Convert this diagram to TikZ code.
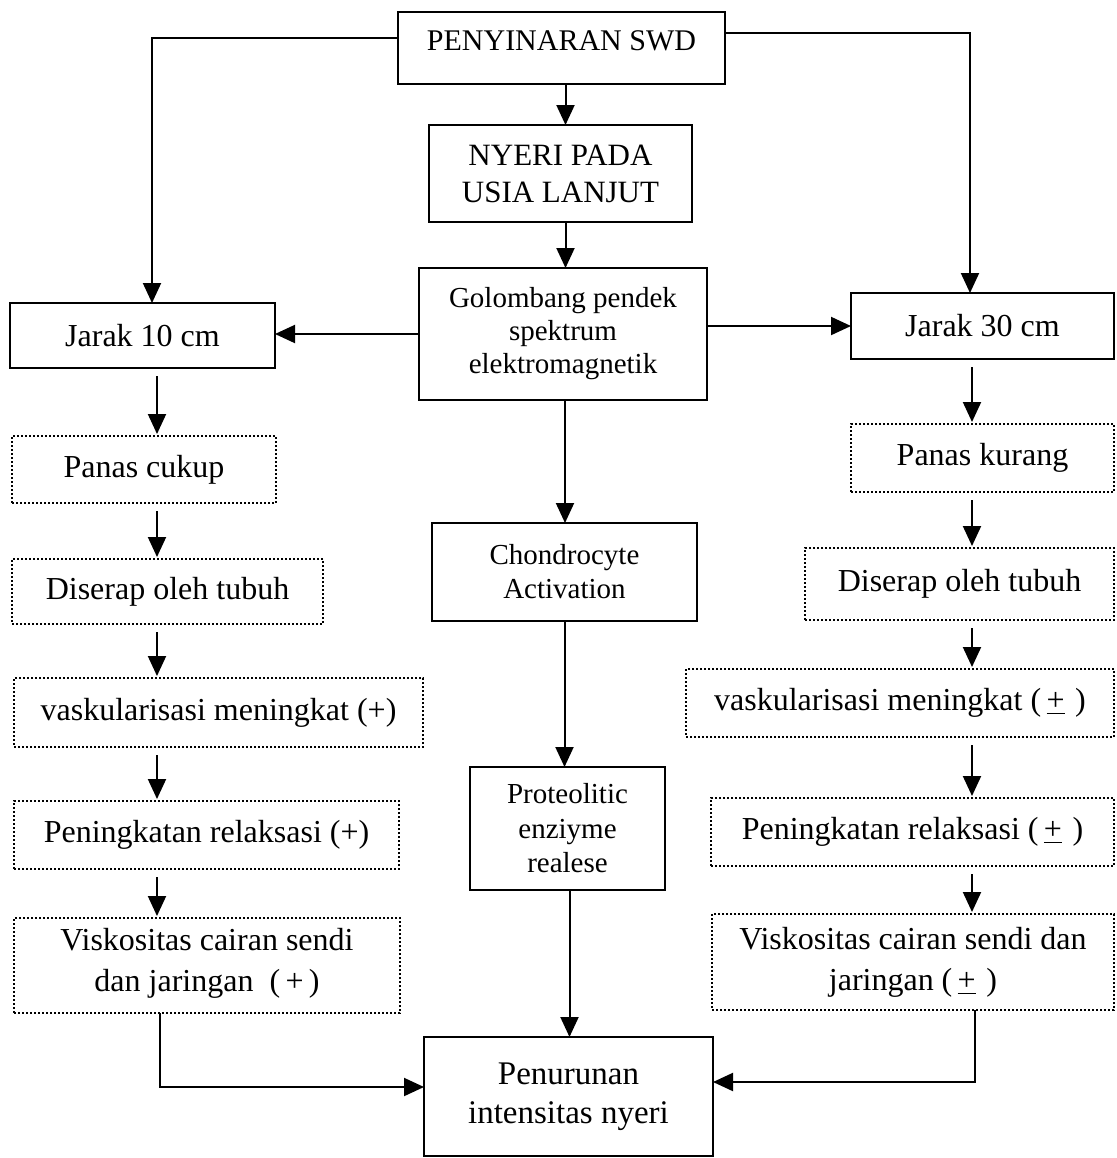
\documentclass[tikz,border=0pt]{standalone}
\usepackage{fontspec}
\setmainfont{Liberation Serif}
\usetikzlibrary{arrows.meta}
\newcommand\mybox[7]{\node[#6, minimum width={(#4-#2)*0.5pt}, minimum height={(#5-#3)*0.5pt}] (#1) at ({(#2+#4)/2},{(#3+#5)/2}) {#7};}
\newcommand\pmu{\underline{+}}
\begin{document}
\begin{tikzpicture}[x=0.5pt,y=-0.5pt,
  solidbox/.style={draw, line width=1pt, inner sep=0pt, outer sep=0pt, align=center, font=\fontsize{16}{20.5}\selectfont},
  dotbox/.style={solidbox, densely dotted, line width=0.9pt},
  arr/.style={line width=1pt, -{Triangle[width=9pt,length=10pt]}},
  small/.style={arr, shorten <=4pt, shorten >=1pt}]
\useasboundingbox (0,0) rectangle (1116,1158);
% centre column
\mybox{swd}{398}{12}{725}{84}{solidbox, font=\fontsize{15}{18}\selectfont, inner ysep=0pt, text height=19pt, text depth=17pt}{PENYINARAN SWD}
\mybox{nyeri}{429}{125}{692}{222}{solidbox, font=\fontsize{15.5}{18.5}\selectfont}{NYERI PADA\\USIA LANJUT}
\mybox{gol}{419}{268}{707}{400}{solidbox, font=\fontsize{14.5}{16.5}\selectfont}{Golombang pendek\\spektrum\\elektromagnetik}
\mybox{chon}{432}{523}{697}{621}{solidbox, font=\fontsize{14.5}{17}\selectfont}{Chondrocyte\\Activation}
\mybox{prot}{470}{767}{665}{890}{solidbox, font=\fontsize{14.5}{17.25}\selectfont}{Proteolitic\\enziyme\\realese}
\mybox{pen}{424}{1037}{713}{1156}{solidbox, font=\fontsize{16.5}{19.5}\selectfont}{Penurunan\\intensitas nyeri}
% left column
\mybox{j10}{10}{303}{275}{368}{solidbox}{Jarak 10 cm}
\mybox{pc}{12}{436}{276}{503}{dotbox}{Panas cukup}
\mybox{dl}{12}{559}{323}{624}{dotbox}{Diserap oleh tubuh}
\mybox{vl}{14}{678}{423}{747}{dotbox}{vaskularisasi meningkat (+)}
\mybox{pl}{14}{801}{399}{869}{dotbox}{Peningkatan relaksasi (+)}
\mybox{kl}{14}{918}{400}{1013}{dotbox, text depth=6pt}{Viskositas cairan sendi\\dan jaringan\ \ (\,+\,)}
% right column
\mybox{j30}{851}{293}{1114}{359}{solidbox}{Jarak 30 cm}
\mybox{pk}{851}{424}{1114}{492}{dotbox}{Panas kurang}
\mybox{dr}{805}{548}{1114}{620}{dotbox}{Diserap oleh tubuh}
\mybox{vr}{686}{669}{1114}{737}{dotbox}{vaskularisasi meningkat (\,\pmu\,\,)}
\mybox{pr}{711}{798}{1114}{866}{dotbox}{Peningkatan relaksasi (\,\pmu\,\,)}
\mybox{kr}{712}{914}{1114}{1010}{dotbox}{Viskositas cairan sendi dan\\jaringan (\,\pmu\,\,)}
\coordinate (L) at (157,0);
\coordinate (R) at (972,0);
% connectors from the top
\draw[arr] ([yshift=5pt]swd.west) -| ([xshift=4.75pt]j10.north);
\draw[arr] ([yshift=7.5pt]swd.east) -| ([xshift=-6.25pt]j30.north);
\draw[arr] ([xshift=2pt]swd.south) -- ([xshift=2pt]swd.south |- nyeri.north);
\draw[arr] ([xshift=2.5pt]nyeri.south) -- ([xshift=2.5pt]nyeri.south |- gol.north);
\draw[arr] (gol.west) -- (gol.west -| j10.east);
\draw[arr] ([yshift=4pt]gol.east) -- ([yshift=4pt]gol.east -| j30.west);
\draw[arr] ([xshift=1pt]gol.south) -- ([xshift=1pt]gol.south |- chon.north);
\draw[arr] (chon.south) -- (chon.south |- prot.north);
\draw[arr] ([xshift=1pt]prot.south) -- ([xshift=1pt]prot.south |- pen.north);
% left column
\draw[small] (j10.south -| L) -- (pc.north -| L);
\draw[small] (pc.south -| L) -- (dl.north -| L);
\draw[small] (dl.south -| L) -- (vl.north -| L);
\draw[small] (vl.south -| L) -- (pl.north -| L);
\draw[small] (pl.south -| L) -- (kl.north -| L);
\draw[arr] ([xshift=1.5pt]kl.south -| L) |- ([yshift=4.75pt]pen.west);
% right column
\draw[small] (j30.south -| R) -- (pk.north -| R);
\draw[small] (pk.south -| R) -- (dr.north -| R);
\draw[small] (dr.south -| R) -- (vr.north -| R);
\draw[small] (vr.south -| R) -- (pr.north -| R);
\draw[small] (pr.south -| R) -- (kr.north -| R);
\draw[arr] ([xshift=1.5pt]kr.south -| R) |- ([yshift=7.25pt]pen.east);
\end{tikzpicture}
\end{document}
